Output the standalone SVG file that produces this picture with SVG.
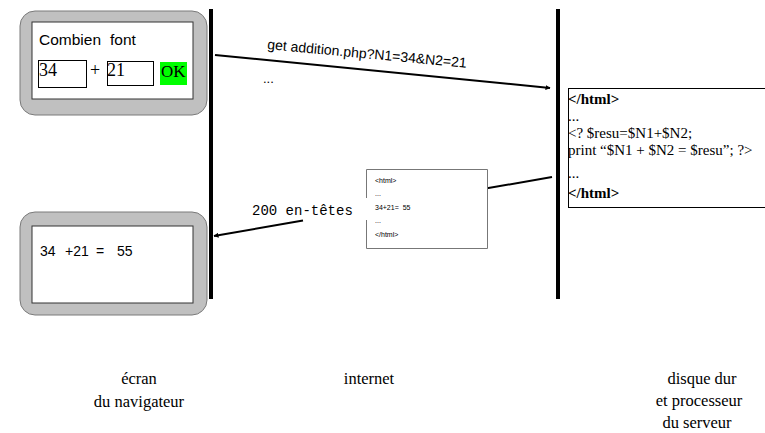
<svg xmlns="http://www.w3.org/2000/svg" width="765" height="433" viewBox="0 0 765 433">
  <defs>
    <marker id="arrow" viewBox="0 0 10 10" refX="9" refY="5" markerWidth="5" markerHeight="5" orient="auto" markerUnits="userSpaceOnUse">
      <path d="M0,0 L10,5 L0,10 z" fill="#000"/>
    </marker>
    <style>
      .frame { fill: #c0c0c0; stroke: #7a7a7a; stroke-width: 1; }
      .screen { fill: #fff; stroke: #333; stroke-width: 1; }
      .sans { font-family: "Liberation Sans", Arial, sans-serif; fill: #000; }
      .serif { font-family: "Liberation Serif", "Times New Roman", serif; fill: #000; }
      .mono { font-family: "Liberation Mono", "Courier New", monospace; fill: #000; }
      .wall { fill: #000; }
      .link { stroke: #000; stroke-width: 2; fill: none; }
      .field { fill: #fff; stroke: #000; stroke-width: 1; }
      .caption { font-size: 16.5px; text-anchor: middle; }
    </style>
  </defs>

  <rect width="765" height="433" fill="#fff"/>

  <!-- Boundaries: browser | internet | server -->
  <g id="boundaries">
    <rect class="wall" x="209" y="9" width="4" height="290"/>
    <rect class="wall" x="556" y="9" width="4" height="290"/>
  </g>

  <!-- Browser screen: the form -->
  <g id="form-screen">
    <rect class="frame" x="20" y="11" width="187" height="104" rx="15" ry="15"/>
    <rect class="screen" x="32" y="22" width="161" height="77"/>
    <text class="sans" x="39" y="45" font-size="15.5">Combien<tspan x="110">font</tspan></text>
    <rect class="field" x="38.5" y="60.5" width="48" height="27"/>
    <text class="serif" x="39" y="76" font-size="18">34</text>
    <text class="serif" x="90" y="76" font-size="18">+</text>
    <rect class="field" x="107.5" y="61.5" width="46" height="24"/>
    <text class="serif" x="107" y="76" font-size="18">21</text>
    <rect x="160" y="62" width="27" height="23" fill="#00ff00"/>
    <text class="serif" x="161" y="77" font-size="17">OK</text>
  </g>

  <!-- Browser screen: the result -->
  <g id="result-screen">
    <rect class="frame" x="20" y="212" width="187" height="103" rx="15" ry="15"/>
    <rect class="screen" x="32" y="226" width="161" height="77"/>
    <text class="sans" font-size="14" y="256"><tspan x="40">34</tspan><tspan x="65">+21</tspan><tspan x="96">=</tspan><tspan x="117">55</tspan></text>
  </g>

  <!-- Server-side PHP source -->
  <g id="php-source">
    <rect x="568.5" y="88.5" width="205" height="119" fill="#fff" stroke="#000" stroke-width="1"/>
    <g class="serif" font-size="15">
      <text x="568" y="104" font-weight="bold">&lt;/html&gt;</text>
      <text x="568" y="121">...</text>
      <text x="568" y="138">&lt;? $resu=$N1+$N2;</text>
      <text x="568" y="155">print “$N1 + $N2 = $resu”; ?&gt;</text>
      <text x="568" y="178">...</text>
      <text x="568" y="198" font-weight="bold">&lt;/html&gt;</text>
    </g>
  </g>

  <!-- Connectors -->
  <g id="connectors">
    <line class="link" x1="215" y1="55" x2="550" y2="88" marker-end="url(#arrow)"/>
    <line class="link" x1="552" y1="177" x2="487" y2="188.3"/>
    <line class="link" x1="303" y1="220.5" x2="214" y2="236" marker-end="url(#arrow)"/>
  </g>

  <!-- Request label -->
  <g id="request-label">
    <text class="sans" font-size="14" transform="translate(267,49) rotate(5.4)">get  addition.php?N1=34&amp;N2=21</text>
    <text class="sans" x="263" y="83" font-size="13">...</text>
  </g>

  <!-- Response: headers and generated page -->
  <g id="response">
    <text class="mono" x="252" y="215" font-size="14">200 en-têtes</text>
    <path d="M366.5,198 V169.5 H487.5 V248.5 H366.5 V220" fill="#fff" stroke="#777" stroke-width="1"/>
    <g class="sans" font-size="7">
      <text x="375" y="183">&lt;html&gt;</text>
      <text x="375" y="196">...</text>
      <text x="375" y="210" xml:space="preserve">34+21=  55</text>
      <text x="375" y="223">...</text>
      <text x="375" y="237">&lt;/html&gt;</text>
    </g>
  </g>

  <!-- Column captions -->
  <g id="captions">
    <text class="caption serif" x="139" y="384">écran</text>
    <text class="caption serif" x="139" y="407">du navigateur</text>
    <text class="caption serif" x="369" y="384">internet</text>
    <text class="caption serif" x="702" y="384">disque dur</text>
    <text class="caption serif" x="699" y="406">et processeur</text>
    <text class="caption serif" x="697" y="428">du serveur</text>
  </g>
</svg>
